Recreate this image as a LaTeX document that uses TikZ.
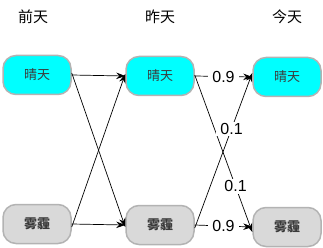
\documentclass[tikz,border=0pt]{standalone}
\usepackage{fontspec}
\setmainfont{Liberation Sans}
\newfontfamily\cjk{Noto Sans CJK SC}
\usetikzlibrary{arrows.meta,positioning}
\definecolor{sunny}{HTML}{00FFFF}
\definecolor{foggy}{HTML}{D9D9D9}
\definecolor{rim}{HTML}{B3B3B3}
\definecolor{ink}{HTML}{3A3A3A}

\tikzset{
  daybox/.style={draw=rim,line width=1.5pt,rounded corners=13pt,minimum width=68pt,minimum height=39pt,text=ink,font=\cjk\fontsize{13}{15}\selectfont},
  dayhead/.style={font=\cjk\fontsize{15}{17}\selectfont},
  prob/.style={fill=white,inner xsep=4pt,inner ysep=1.5pt,font=\fontsize{16}{18}\selectfont},
  link/.style={-{Stealth[length=9pt,width=6.5pt]},line width=0.7pt}
}

\begin{document}
\begin{tikzpicture}[x=1pt,y=-1pt]
\useasboundingbox (0,0) rectangle (323,248);
% column heads
\node[dayhead] (h1) at (33,17) {前天};
\node[dayhead] (h2) at (160,17) {昨天};
\node[dayhead] (h3) at (287,17) {今天};
% states
\node[daybox,fill=sunny] (s1) at (37,75) {晴天};
\node[daybox,fill=sunny] (s2) at (160,76) {晴天};
\node[daybox,fill=sunny] (s3) at (287,77) {晴天};
\node[daybox,fill=foggy,font=\cjk\bfseries\fontsize{13}{15}\selectfont] (f1) at (37,224) {雾霾};
\node[daybox,fill=foggy,font=\cjk\bfseries\fontsize{13}{15}\selectfont] (f2) at (160,225) {雾霾};
\node[daybox,fill=foggy,font=\cjk\bfseries\fontsize{13}{15}\selectfont] (f3) at (287,227) {雾霾};
% first step
\draw[link] (s1.east) -- (s2.west);
\draw[link] ([yshift=2pt]s1.east) -- ([yshift=-2pt]f2.west);
\draw[link] ([yshift=-3pt]f1.east) -- ([yshift=2pt]s2.west);
\draw[link] (f1.east) -- (f2.west);
% second step
\draw[link] (s2.east) -- node[prob] (p1) {0.9} (s3.west);
\draw[link] ([yshift=1pt]s2.east) -- node[prob,pos=0.71] (p2) {0.1} ([yshift=-5pt]f3.west);
\draw[link] ([yshift=-3pt]f2.east) -- node[prob,pos=0.64] (p3) {0.1} ([yshift=4pt]s3.west);
\draw[link] (f2.east) -- node[prob] (p4) {0.9} (f3.west);
\end{tikzpicture}
\end{document}
